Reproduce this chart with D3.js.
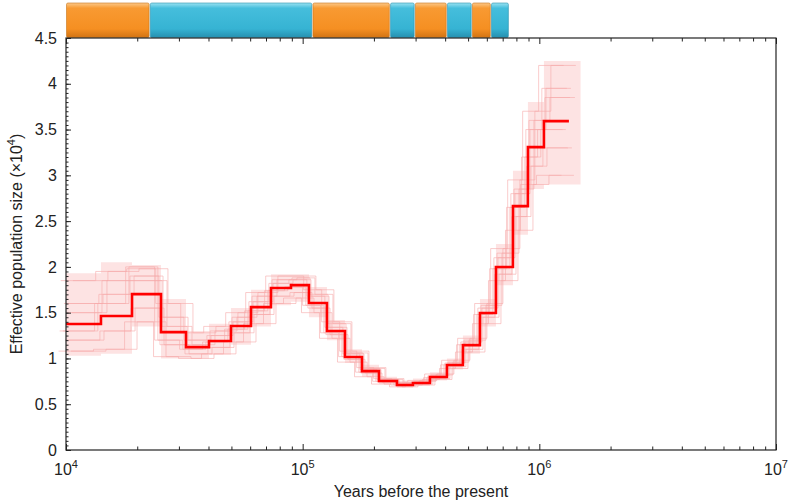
<!DOCTYPE html>
<html>
<head>
<meta charset="utf-8">
<script src="https://cdn.jsdelivr.net/npm/d3@7"></script>
<style>
  body { margin: 0; background: #fff; }
  svg { font-family: "Liberation Sans", Arial, sans-serif; }
</style>
</head>
<body>
<svg width="788" height="501"></svg>
<script>
// step boundaries (years) of the main PSMC curve
var stepTimes = [10000, 14050, 19010, 25200, 32140, 40190, 49780, 60480, 73460, 89240,
  106300, 126650, 150900, 178100, 210100, 250300, 292400, 344900, 407000, 475500,
  561100, 655700, 773600, 895000, 1045700, 1333500];
// effective population size (x10^4) for each step
var neMain = [1.376, 1.463, 1.703, 1.288, 1.124, 1.19, 1.354, 1.561, 1.769, 1.801,
  1.605, 1.299, 1.015, 0.862, 0.753, 0.71, 0.731, 0.797, 0.928, 1.146,
  1.496, 1.998, 2.664, 3.308, 3.592];
// bootstrap spread per step
var bootLow = [1.03, 1.05, 1.35, 1.0, 1.0, 1.04, 1.15, 1.35, 1.58, 1.62,
  1.45, 1.2, 0.95, 0.8, 0.72, 0.68, 0.7, 0.76, 0.88, 1.05,
  1.35, 1.8, 2.35, 2.85, 2.9];
var bootHigh = [1.93, 2.05, 2.02, 1.65, 1.3, 1.38, 1.55, 1.75, 1.92, 1.92,
  1.78, 1.42, 1.1, 0.93, 0.8, 0.76, 0.78, 0.85, 1.0, 1.25,
  1.65, 2.25, 3.05, 3.8, 4.25];
// a few bootstrap replicates
var replicates = [
  [1.85,1.95,1.98,1.6,1.28,1.35,1.5,1.72,1.9,1.9,1.75,1.4,1.08,0.9,0.78,0.74,0.76,0.83,0.98,1.22,1.6,2.2,2.95,3.7,4.2],
  [1.08,1.1,1.4,1.02,1.0,1.05,1.18,1.38,1.6,1.66,1.5,1.22,0.96,0.8,0.72,0.69,0.71,0.77,0.89,1.07,1.38,1.85,2.4,2.9,3.0],
  [1.6,1.7,1.9,1.45,1.2,1.25,1.4,1.62,1.82,1.86,1.68,1.34,1.05,0.88,0.77,0.73,0.74,0.81,0.95,1.18,1.55,2.1,2.8,3.5,3.95],
  [1.2,1.3,1.55,1.15,1.05,1.12,1.28,1.48,1.68,1.72,1.55,1.26,0.99,0.84,0.74,0.7,0.72,0.78,0.91,1.1,1.45,1.92,2.55,3.1,3.3],
  [1.5,1.85,1.85,1.35,1.15,1.3,1.45,1.68,1.86,1.88,1.7,1.38,1.06,0.89,0.77,0.73,0.75,0.82,0.96,1.2,1.58,2.15,2.85,3.6,3.85],
  [1.3,1.6,2.0,1.2,1.1,1.18,1.32,1.52,1.74,1.78,1.58,1.28,1.02,0.85,0.75,0.71,0.73,0.79,0.93,1.15,1.48,1.98,2.65,3.2,3.5]
];
// time rescaling of each drawn replicate
var repTimeScale = [0.95, 1.05, 0.98, 1.03, 1.01, 0.97, 1.07, 0.93, 1.02, 0.99, 1.06, 0.94];
// climate periods along the top (years)
var periodEdges = [10000, 22600, 110000, 234000, 298000, 407000, 519000, 625000, 745000];
var periodKinds = ["warm", "cold", "warm", "cold", "warm", "cold", "warm", "cold"];

var yMajor = d3.range(0, 4.51, 0.5);
var yMinor = d3.range(0, 4.501, 0.05);
var xMajor = [1e4, 1e5, 1e6, 1e7];
var xMinor = [];
[1e4, 1e5, 1e6].forEach(function(d){ for (var k = 2; k < 10; k++) xMinor.push(d * k); });

var svg = d3.select("svg");
var L = 66, R = 776, T = 38, B = 450;
var x = d3.scaleLog().domain([1e4, 1e7]).range([L, R]);
var y = d3.scaleLinear().domain([0, 4.5]).range([B, T]);

// gradients for the top bar
var defs = svg.append("defs");
function grad(id, c1, c2, c3, c4) {
  var g = defs.append("linearGradient").attr("id", id).attr("x1", 0).attr("y1", 0).attr("x2", 0).attr("y2", 1);
  g.append("stop").attr("offset", "0%").attr("stop-color", c1);
  g.append("stop").attr("offset", "15%").attr("stop-color", c2);
  g.append("stop").attr("offset", "75%").attr("stop-color", c3);
  g.append("stop").attr("offset", "100%").attr("stop-color", c4);
}
grad("warm", "#fcc888", "#f89a32", "#f58f22", "#d27414");
grad("cold", "#9ae2f2", "#45bedc", "#36b3d3", "#2690b0");

var bars = periodKinds.map(function(k, i){ return {kind: k, t0: periodEdges[i], t1: periodEdges[i + 1]}; });
svg.append("g").selectAll("rect").data(bars).enter().append("rect")
  .attr("x", function(d){ return x(d.t0) + 0.5; })
  .attr("y", 3)
  .attr("width", function(d){ return x(d.t1) - x(d.t0) - 1.2; })
  .attr("height", T - 3.5)
  .attr("rx", 1.5)
  .style("fill", function(d){ return "url(#" + d.kind + ")"; })
  .style("stroke", function(d){ return d.kind == "warm" ? "#c87418" : "#2890ad"; })
  .style("stroke-width", 0.6);

function stepPoints(vals, times, scale) {
  var pts = vals.map(function(v, i){ return [times[i] * scale, v]; });
  pts.push([times[times.length - 1] * scale, vals[vals.length - 1]]);
  return pts;
}

var plot = svg.append("g");

// bootstrap band
var bandData = bootLow.map(function(v, i){ return {t: stepTimes[i], lo: v, hi: bootHigh[i]}; });
bandData.push({t: stepTimes[stepTimes.length - 1] * 1.12, lo: bootLow[bootLow.length - 1], hi: bootHigh[bootHigh.length - 1]});
plot.append("path").datum(bandData)
  .attr("d", d3.area().curve(d3.curveStepAfter)
    .x(function(d){ return x(d.t); })
    .y0(function(d){ return y(d.lo); })
    .y1(function(d){ return y(d.hi); }))
  .style("fill", "#fde3e3")
  .style("stroke", "none");

var line = d3.line().curve(d3.curveStepAfter)
  .x(function(d){ return x(d[0]); })
  .y(function(d){ return y(d[1]); });

plot.selectAll(".rep").data(repTimeScale).enter().append("path")
  .attr("class", "rep")
  .attr("d", function(s, i){ return line(stepPoints(replicates[i % replicates.length], stepTimes, s)); })
  .style("fill", "none")
  .style("stroke", "#f7aaaa")
  .style("stroke-width", 0.8)
  .style("opacity", 0.75);

plot.append("path").datum(stepPoints(neMain, stepTimes, 1))
  .attr("d", line)
  .style("fill", "none")
  .style("stroke", "#ff0000")
  .style("stroke-width", 2.6);

// axes
var ink = "#222";
function styleAxis(g) {
  g.select(".domain").remove();
  g.selectAll("line").style("stroke", ink);
}
svg.append("g").attr("transform", "translate(" + L + ",0)")
  .call(d3.axisLeft(y).tickValues(yMinor).tickSize(-2.5).tickFormat(""))
  .call(styleAxis);
svg.append("g").attr("transform", "translate(" + L + ",0)")
  .call(d3.axisLeft(y).tickValues(yMajor).tickSize(-5).tickPadding(9).tickFormat(d3.format("~g")))
  .call(styleAxis)
  .selectAll("text").style("font-size", "16px").style("fill", ink);

svg.append("g").attr("transform", "translate(0," + B + ")")
  .call(d3.axisBottom(x).tickValues(xMinor).tickSize(-3.5).tickFormat(""))
  .call(styleAxis);
svg.append("g").attr("transform", "translate(0," + B + ")")
  .call(d3.axisBottom(x).tickValues(xMajor).tickSize(-6).tickFormat(""))
  .call(styleAxis);
svg.append("g").attr("transform", "translate(0," + T + ")")
  .call(d3.axisTop(x).tickValues(xMinor).tickSize(-3.5).tickFormat(""))
  .call(styleAxis);
svg.append("g").attr("transform", "translate(0," + T + ")")
  .call(d3.axisTop(x).tickValues(xMajor).tickSize(-6).tickFormat(""))
  .call(styleAxis);

// x tick labels as powers of ten
var xl = svg.append("g").selectAll("text").data(xMajor).enter().append("text")
  .attr("x", function(d){ return x(d); })
  .attr("y", B + 25)
  .attr("text-anchor", "middle")
  .style("font-size", "16px")
  .style("fill", ink);
xl.append("tspan").text("10");
xl.append("tspan").attr("dy", -7).style("font-size", "11px")
  .text(function(d){ return Math.round(Math.log10(d)); });

// frame
svg.append("rect").attr("x", L).attr("y", T).attr("width", R - L).attr("height", B - T)
  .style("fill", "none").style("stroke", ink).style("stroke-width", 1.2);

// axis titles
svg.append("text").attr("x", (L + R) / 2).attr("y", 497).attr("text-anchor", "middle")
  .style("font-size", "16px").style("fill", ink).text("Years before the present");
var yt = svg.append("text").attr("transform", "translate(22," + ((T + B) / 2) + ") rotate(-90)")
  .attr("text-anchor", "middle").style("font-size", "16px").style("fill", ink);
yt.append("tspan").text("Effective population size (\u00d710");
yt.append("tspan").attr("dy", -7).style("font-size", "11px").text("4");
yt.append("tspan").attr("dy", 7).text(")");
</script>
</body>
</html>
